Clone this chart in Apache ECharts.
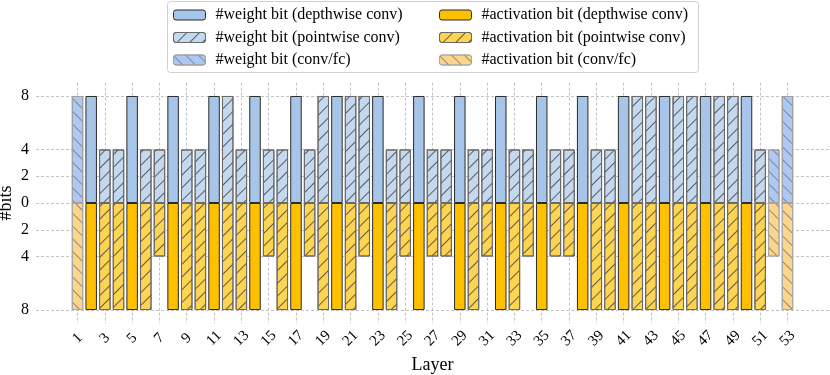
<!DOCTYPE html>
<html>
<head>
	<meta charset="utf-8">
	<title>Bit allocation per layer</title>
	<script src="https://cdn.jsdelivr.net/npm/echarts@6/dist/echarts.min.js"></script>
	<style type="text/css">
		html, body { margin: 0; padding: 0; background: #fff; }
		#main { width: 830px; height: 375px; }
	</style>
</head>
<body>
	<div id="main"></div>
	<script type="text/javascript">
		// layer index, layer kind, bits
		var layers = [1,2,3,4,5,6,7,8,9,10,11,12,13,14,15,16,17,18,19,20,21,22,23,24,25,26,27,28,29,30,31,32,33,34,35,36,37,38,39,40,41,42,43,44,45,46,47,48,49,50,51,52,53];
		var layerKind = ['conv','dw','pw','pw','dw','pw','pw','dw','pw','pw',
			'dw','pw','pw','dw','pw','pw','dw','pw','pw','dw',
			'pw','pw','dw','pw','pw','dw','pw','pw','dw','pw',
			'pw','dw','pw','pw','dw','pw','pw','dw','pw','pw',
			'dw','pw','pw','dw','pw','pw','dw','pw','pw','dw',
			'pw','conv','conv'];
		var weightBits = [8,8,4,4,8,4,4,8,4,4, 8,8,4,8,4,4,8,4,8,8, 8,8,8,4,4,8,4,4,8,4, 4,8,4,4,8,4,4,8,4,4, 8,8,8,8,8,8,8,8,8,8, 4,4,8];
		var actBits = [8,8,8,8,8,8,4,8,8,8, 8,8,8,8,4,8,8,4,8,8, 8,4,8,8,4,8,4,4,8,8, 4,8,8,4,8,4,4,8,8,8, 8,8,8,8,8,8,8,8,8,8, 8,4,8];
		var xTicks = [1,3,5,7,9,11,13,15,17,19,21,23,25,27,29,31,33,35,37,39,41,43,45,47,49,51,53];
		var yTicks = [-8,-4,-2,0,2,4,8];

		var FONT = '"Liberation Serif", "DejaVu Serif", serif';

		var styles = {
			w_dw: { color: '#a6c5e8', borderColor: '#2b2b2b' },
			w_pw: { color: '#c4d9ef', borderColor: '#6a6a6a', decal: 'fwd' },
			w_conv: { color: '#adc8f5', borderColor: '#a0a0a0', decal: 'back' },
			a_dw: { color: '#ffc000', borderColor: '#2b2b2b' },
			a_pw: { color: '#ffd450', borderColor: '#6a6a6a', decal: 'fwd' },
			a_conv: { color: '#fed58a', borderColor: '#a8a8a8', decal: 'back' }
		};

		var makeDecal = function(kind, col){
			return {
				symbol: 'rect',
				symbolSize: 1,
				dashArrayX: [1, 0],
				dashArrayY: [1, 8],
				rotation: kind == 'fwd' ? -Math.PI / 4 : Math.PI / 4,
				color: col
			};
		};

		var names = {
			w_dw: '#weight bit (depthwise conv)',
			w_pw: '#weight bit (pointwise conv)',
			w_conv: '#weight bit (conv/fc)',
			a_dw: '#activation bit (depthwise conv)',
			a_pw: '#activation bit (pointwise conv)',
			a_conv: '#activation bit (conv/fc)'
		};

		var buildSeries = function(key){
			var isW = key.charAt(0) == 'w';
			var kind = key.substring(2);
			var d = [];
			for(var i = 0; i < layers.length; i++){
				if(layerKind[i] == kind){
					d.push(isW ? weightBits[i] : -actBits[i]);
				}
				else{
					d.push(null);
				}
			}
			var st = styles[key];
			var itemStyle = {
				color: st.color,
				borderColor: st.borderColor,
				borderWidth: 1
			};
			if(st.decal){
				itemStyle.decal = makeDecal(st.decal, kind == 'conv' ? 'rgba(120,120,120,0.8)' : 'rgba(70,70,70,0.85)');
			}
			return {
				name: names[key],
				type: 'bar',
				xAxisIndex: 1,
				yAxisIndex: 1,
				barWidth: 11.5,
				barGap: '-100%',
				itemStyle: itemStyle,
				emphasis: { disabled: true },
				data: d
			};
		};

		var keys = ['w_dw','w_pw','w_conv','a_dw','a_pw','a_conv'];
		var series = [];
		for(var k = 0; k < keys.length; k++){
			series.push(buildSeries(keys[k]));
		}

		var legendBase = {
			orient: 'vertical',
			top: 7,
			padding: 0,
			itemWidth: 32,
			itemHeight: 10,
			itemGap: 6.5,
			selectedMode: false,
			itemStyle: { borderWidth: 1 },
			textStyle: { fontFamily: FONT, fontSize: 16, color: '#000', padding: [0, 0, 0, 5] }
		};

		var gridBox = { top: 82.6, bottom: 51.6 };

		var myChart = echarts.init(document.getElementById('main'));
		var option = {
			animation: false,
			aria: { enabled: false },
			graphic: [{
				type: 'rect',
				left: 167,
				top: 1,
				shape: { width: 531, height: 71, r: 3 },
				style: { fill: '#fff', stroke: '#d0d0d0', lineWidth: 1 },
				z: -1
			}],
			legend: [
				Object.assign({}, legendBase, { left: 173, data: [names.w_dw, names.w_pw, names.w_conv] }),
				Object.assign({}, legendBase, { left: 439, data: [names.a_dw, names.a_pw, names.a_conv] })
			],
			// grid 0 carries the frame: ticks, labels and dashed grid lines
			// grid 1 carries the bars, one band per layer
			grid: [
				{ left: 36, right: 1, top: gridBox.top, bottom: gridBox.bottom, outerBoundsMode: 'none', containLabel: false },
				{ left: 70.7, right: 35.7, top: gridBox.top, bottom: gridBox.bottom, outerBoundsMode: 'none', containLabel: false }
			],
			xAxis: [{
				type: 'value',
				gridIndex: 0,
				min: -2.04,
				max: 56.04,
				name: 'Layer',
				nameLocation: 'middle',
				nameGap: 31,
				nameTextStyle: { fontFamily: FONT, fontSize: 18, color: '#000' },
				axisLine: { show: false },
				axisTick: { show: false, customValues: xTicks },
				axisLabel: {
					customValues: xTicks,
					rotate: 45,
					align: 'center',
					verticalAlign: 'middle',
					margin: 15,
					fontFamily: FONT,
					fontSize: 15,
					color: '#000'
				},
				splitLine: {
					show: true,
					lineStyle: { color: '#b4b4b4', type: [3, 2], width: 0.8 }
				}
			}, {
				type: 'category',
				gridIndex: 1,
				data: layers,
				show: false
			}],
			yAxis: [{
				type: 'value',
				gridIndex: 0,
				min: -9,
				max: 9,
				name: '#bits',
				nameLocation: 'middle',
				nameGap: 21,
				nameMoveOverlap: false,
				nameTextStyle: { fontFamily: FONT, fontSize: 18, color: '#000' },
				axisLine: { show: false },
				axisTick: { show: false, customValues: yTicks },
				axisLabel: {
					customValues: yTicks,
					margin: 7,
					fontFamily: FONT,
					fontSize: 16,
					color: '#000',
					formatter: function(v){ return Math.abs(v); }
				},
				splitLine: {
					show: true,
					lineStyle: { color: '#b4b4b4', type: [3, 2], width: 0.8 }
				}
			}, {
				type: 'value',
				gridIndex: 1,
				min: -9,
				max: 9,
				show: false
			}],
			series: series
		};
		myChart.setOption(option);
	</script>
</body>
</html>
